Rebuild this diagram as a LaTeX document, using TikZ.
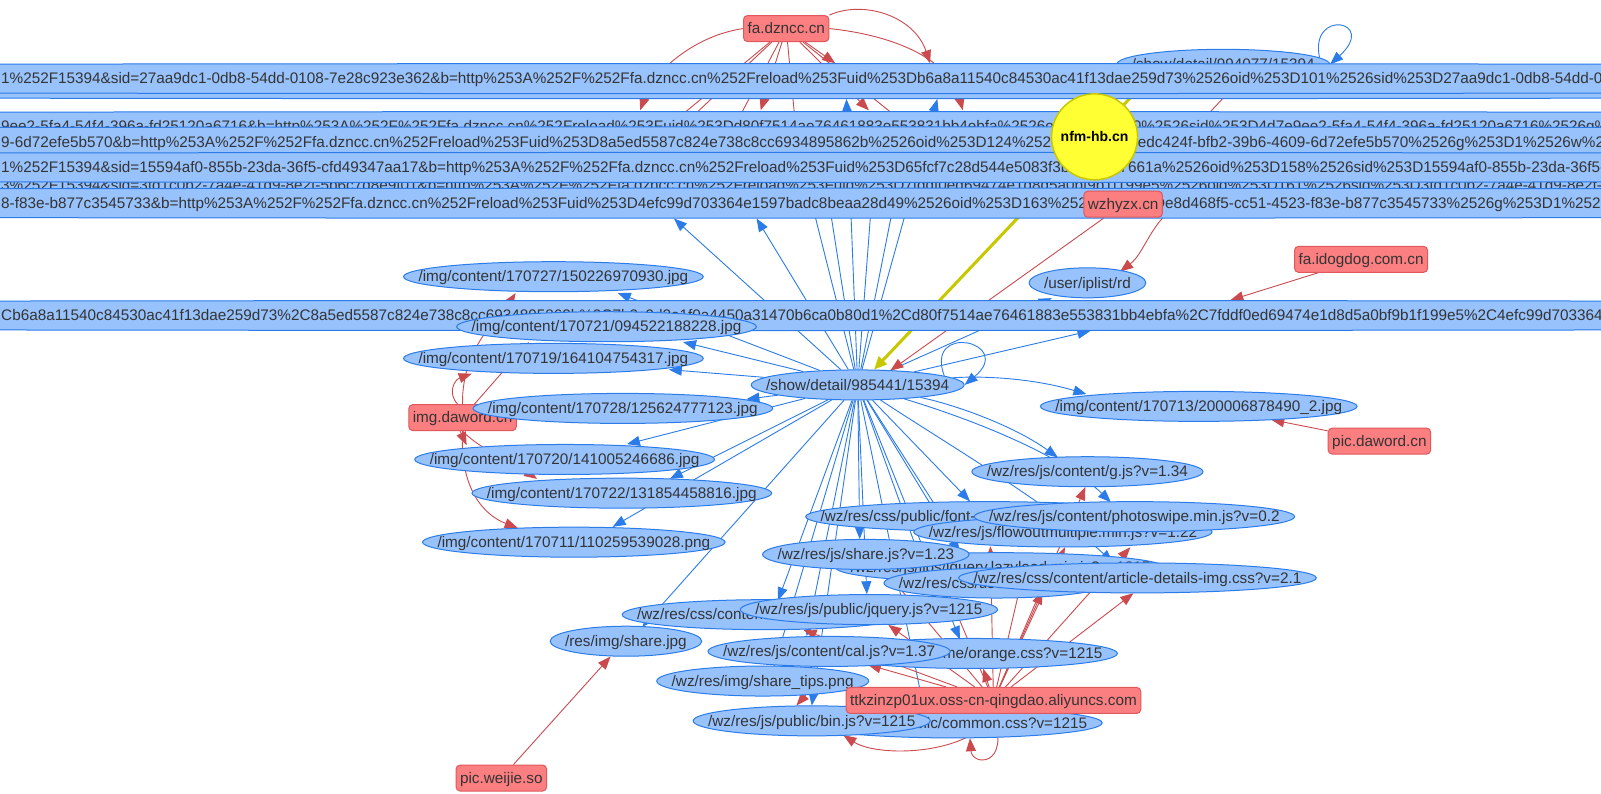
\documentclass[tikz,border=0pt]{standalone}
\usepackage{fontspec}
\setmainfont{Liberation Sans}
\usetikzlibrary{arrows.meta,shapes.geometric}
\pgfdeclarelayer{bg}
\pgfdeclarelayer{edges}
\pgfsetlayers{bg,edges,main}
\definecolor{nfill}{HTML}{97C2FC}
\definecolor{nline}{HTML}{2B7CE9}
\definecolor{rfill}{HTML}{FB7E81}
\definecolor{rline}{HTML}{E0585C}
\definecolor{redge}{HTML}{CB4A4E}
\definecolor{yfill}{HTML}{FFFF33}
\definecolor{yline}{HTML}{C8C800}
\definecolor{tcol}{HTML}{343434}
\newlength\elw
\newcommand\nfont{\fontsize{15.3}{18}\selectfont}
\tikzset{
 bel/.style={ellipse, draw=nline, fill=nfill, line width=1pt, inner sep=0pt, minimum height=30pt},
 ntxt/.style={inner sep=0pt, font=\nfont, text=tcol, text height=10.5pt, text depth=0pt},
 rbox/.style={draw=rline, fill=rfill, rounded corners=4pt, line width=1pt, font=\nfont, text=tcol, inner xsep=4pt, inner ysep=0pt, minimum height=26pt, text height=10.5pt, text depth=0pt},
 ycirc/.style={circle, draw=yline, fill=yfill, line width=1.5pt, minimum size=86pt, inner sep=0pt, font=\bfseries\fontsize{14}{16}\selectfont, text=black},
 be/.style={draw=nline, line width=0.9pt, -{Triangle[length=13pt,width=10pt]}},
 re/.style={draw=redge, line width=0.9pt, -{Triangle[length=13pt,width=10pt]}},
 ye/.style={draw=yline, line width=3pt, -{Triangle[length=13pt,width=11pt]}},
}
\newcommand\enode[4]{%
  \pgfinterruptpicture\setbox0=\hbox{\nfont #4}\global\elw=\wd0\endpgfinterruptpicture
  \global\advance\elw by 30pt\relax
  \node[bel, minimum width=\the\elw] (#1) at (#2,#3) {};
  \node[ntxt] (#1-t) at (#1.center) {#4};}
\newcommand\bnode[3]{%
  \node[bel, minimum width=6000pt] (#1) at (784,#2) {};
  \node[ntxt, anchor=west] (#1-t) at (1,#2) {#3};}
\begin{document}
\begin{tikzpicture}[x=1.021pt,y=-1.021pt]
\useasboundingbox (0,0) rectangle (1568,776.7);
\begin{pgfonlayer}{bg}
\fill[white] (0,0) rectangle (1568,776.7);
\end{pgfonlayer}
% ---------- nodes ----------
\enode{sd994}{1198}{63}{/show/detail/994077/15394}
\node[bel, minimum width=6000pt] (barA2) at (784,82) {};
\bnode{barA}{77}{1\%252F15394\&sid=27aa9dc1-0db8-54dd-0108-7e28c923e362\&b=http\%253A\%252F\%252Ffa.dzncc.cn\%252Freload\%253Fuid\%253Db6a8a11540c84530ac41f13dae259d73\%2526oid\%253D101\%2526sid\%253D27aa9dc1-0db8-54dd-0108-7e28c923e362\%2526g\%253D1}
\bnode{barB}{124}{9ee2-5fa4-54f4-396a-fd25120a6716\&b=http\%253A\%252F\%252Ffa.dzncc.cn\%252Freload\%253Fuid\%253Dd80f7514ae76461883e553831bb4ebfa\%2526oid\%253D150\%2526sid\%253D4d7e9ee2-5fa4-54f4-396a-fd25120a6716\%2526g\%253D1\%2526w\%253D1}
\bnode{barC}{139}{9-6d72efe5b570\&b=http\%253A\%252F\%252Ffa.dzncc.cn\%252Freload\%253Fuid\%253D8a5ed5587c824e738c8cc6934895862b\%2526oid\%253D124\%2526sid\%253D9edc424f-bfb2-39b6-4609-6d72efe5b570\%2526g\%253D1\%2526w\%253D1}
\bnode{barE}{181}{3\%252F15394\&sid=3fd1c0b2-7a4e-41d9-8e2f-5b6c7d8e9f01\&b=http\%253A\%252F\%252Ffa.dzncc.cn\%252Freload\%253Fuid\%253D7fddf0ed69474e1d8d5a0bf9b1f199e5\%2526oid\%253D161\%2526sid\%253D3fd1c0b2-7a4e-41d9-8e2f-5b6c7d8e9f01\%2526g\%253D1}
\bnode{barD}{164}{1\%252F15394\&sid=15594af0-855b-23da-36f5-cfd49347aa17\&b=http\%253A\%252F\%252Ffa.dzncc.cn\%252Freload\%253Fuid\%253D65fcf7c28d544e5083f3b2e9c407661a\%2526oid\%253D158\%2526sid\%253D15594af0-855b-23da-36f5-cfd49347aa17\%2526g\%253D1}
\bnode{barF}{199}{8-f83e-b877c3545733\&b=http\%253A\%252F\%252Ffa.dzncc.cn\%252Freload\%253Fuid\%253D4efc99d703364e1597badc8beaa28d49\%2526oid\%253D163\%2526sid\%253De8d468f5-cc51-4523-f83e-b877c3545733\%2526g\%253D1\%2526}
\node[ycirc] (nfm) at (1072,134) {nfm-hb.cn};
\node[rbox] (wz) at (1100,200) {wzhyzx.cn};
\node[rbox] (dz) at (770,28) {fa.dzncc.cn};
\enode{c727}{542}{271}{/img/content/170727/150226970930.jpg}
\enode{ipl}{1065}{277}{/user/iplist/rd}
\node[rbox] (idog) at (1333,254) {fa.idogdog.com.cn};
\bnode{barG}{309}{Cb6a8a11540c84530ac41f13dae259d73\%2C8a5ed5587c824e738c8cc6934895862b\%2C7b3c9d2e1f0a4450a31470b6ca0b80d1\%2Cd80f7514ae76461883e553831bb4ebfa\%2C7fddf0ed69474e1d8d5a0bf9b1f199e5\%2C4efc99d703364e1597badc8beaa28d49}
\enode{c721}{594}{320}{/img/content/170721/094522188228.jpg}
\enode{c719}{542}{351}{/img/content/170719/164104754317.jpg}
\node[rbox] (imgd) at (453,409) {img.daword.cn};
\enode{sd985}{840}{377}{/show/detail/985441/15394}
\enode{c728}{610}{400}{/img/content/170728/125624777123.jpg}
\enode{c713}{1174}{398}{/img/content/170713/200006878490\_2.jpg}
\node[rbox] (picd) at (1351,432) {pic.daword.cn};
\enode{c720}{553}{450}{/img/content/170720/141005246686.jpg}
\enode{gjs}{1065}{462}{/wz/res/js/content/g.js?v=1.34}
\enode{c722}{609}{483}{/img/content/170722/131854458816.jpg}
\enode{font}{968}{506}{/wz/res/css/public/font-awesome.min.css?v=1215}
\enode{flow}{1041}{521}{/wz/res/js/flowoutmultiple.min.js?v=1.22}
\enode{psw}{1111}{506}{/wz/res/js/content/photoswipe.min.js?v=0.2}
\enode{c711}{562}{531}{/img/content/170711/110259539028.png}
\enode{lazy}{980}{556}{/wz/res/js/libs/jquery.lazyload.min.js?v=1215}
\enode{share}{848}{543}{/wz/res/js/share.js?v=1.23}
\enode{adcss}{976}{571}{/wz/res/css/user.css?v=1215}
\enode{artcss}{1114}{566}{/wz/res/css/content/article-details-img.css?v=2.1}
\enode{cnt}{750}{602}{/wz/res/css/content/detail.css?v=1215}
\enode{jq}{851}{597}{/wz/res/js/public/jquery.js?v=1215}
\enode{rshare}{613}{628}{/res/img/share.jpg}
\enode{orange}{952}{640}{/wz/res/css/theme/orange.css?v=1215}
\enode{cal}{812}{638}{/wz/res/js/content/cal.js?v=1.37}
\enode{tips}{747}{667}{/wz/res/img/share\_tips.png}
\enode{common}{933}{708}{/wz/res/css/public/common.css?v=1215}
\enode{bin}{795}{706}{/wz/res/js/public/bin.js?v=1215}
\node[rbox] (ttk) at (973,686) {ttkzinzp01ux.oss-cn-qingdao.aliyuncs.com};
\node[rbox] (picw) at (491,762) {pic.weijie.so};
% ---------- edges ----------
\begin{pgfonlayer}{edges}
% blue, from /show/detail/985441
\foreach \n/\x/\y in {bA1/829/97, bA2/918/97, bB/858/139, bC/805/154, bD/790/179, bE/876/196,
  bF1/660/214, bF2/741/214, bG/1068/324, bipl/1030/292, b727/605/287, b721/669/335,
  b719/655/362, b728/731/391, b720/614/435, b722/656/469, b711/600/516, bsh/629/614,
  bfont/950/491, blazy/940/541, bflow/925/509, bshare/842/528, badcss/905/558,
  bjq/849/582, bcnt/762/588, bcal/790/623, borange/940/626, btips/758/653,
  bbin/795/691, bcommon/905/695}
  {\coordinate (\n) at (\x,\y); \draw[be] (sd985) -- (\n);}
\coordinate (b713) at (1064,386);
\draw[be] (sd985) .. controls (960,368) and (1010,370) .. (b713);
\coordinate (bgjs) at (1036,448);
\draw[be] (sd985) .. controls (930,395) and (990,415) .. (bgjs);
\coordinate (bpsw) at (1088,492);
\draw[be] (sd985) .. controls (950,410) and (1040,445) .. (bpsw);
\coordinate (bart) at (1090,551);
\draw[be] (sd985) .. controls (920,430) and (1030,495) .. (bart);
\draw[be] (sd985.6) .. controls (905,315) and (995,335) .. (sd985.east);
\draw[be] (sd994.4) .. controls (1282,8) and (1350,20) .. (sd994.east);
% yellow
\coordinate (y1) at (856,362); \draw[ye] (nfm) -- (y1);
\coordinate (y2) at (1125,76); \draw[ye] (nfm) -- (y2);
% red from fa.dzncc.cn
\coordinate (rA1) at (818,62); \draw[re] (dz) -- (rA1);
\coordinate (rA2) at (911,62); \draw[re] (dz.north east) .. controls (845,0) and (895,15) .. (rA2);
\coordinate (rB1) at (627,108); \draw[re] (dz.west) .. controls (680,35) and (640,70) .. (rB1);
\coordinate (rB4) at (943,108); \draw[re] (dz.east) .. controls (880,35) and (930,60) .. (rB4);
\foreach \n/\x/\y in {rB2/745/108, rB3/851/108, rC/654/124, rD/640/150, rE/697/166, rF1/785/184, rF2/965/184}
  {\coordinate (\n) at (\x,\y); \draw[re] (dz) -- (\n);}
% red from img.daword.cn
\coordinate (r727) at (505,287); \draw[re] (imgd.north) .. controls (452,340) and (490,310) .. (r727);
\coordinate (r721) at (518,335); \draw[re] (imgd) -- (r721);
\coordinate (r719) at (462,366); \draw[re] (imgd.110) .. controls (438,385) and (445,372) .. (r719);
\coordinate (r720) at (457,436); \draw[re] (imgd.260) -- (r720);
\coordinate (r722) at (526,469); \draw[re] (imgd.south) .. controls (470,440) and (505,455) .. (r722);
\coordinate (r711) at (507,517); \draw[re] (imgd.south) .. controls (450,480) and (475,505) .. (r711);
% red from wzhyzx.cn
\coordinate (rsd) at (872,363); \draw[re] (wz) -- (rsd);
\coordinate (ripl) at (1097,266); \draw[re] (wz.south east) .. controls (1125,228) and (1118,250) .. (ripl);
\coordinate (r994) at (1215,78); \draw[re] (wz) -- (r994);
% other red sources
\coordinate (rG) at (1205,294); \draw[re] (idog) -- (rG);
\coordinate (r713) at (1245,411); \draw[re] (picd) -- (r713);
\coordinate (rsh) at (598,643); \draw[re] (picw) -- (rsh);
% red from ttkzinzp01ux
\coordinate (rbin1) at (826,720); \draw[re] (ttk.south) .. controls (950,740) and (860,742) .. (rbin1);
\coordinate (rcom) at (950,723); \draw[re] (ttk.south) .. controls (990,752) and (952,750) .. (rcom);
\coordinate (rbin2) at (780,691); \draw[re] (ttk.north west) .. controls (830,655) and (800,668) .. (rbin2);
\foreach \n/\x/\y in {rcal/850/651, rcnt/787/617, rjq/870/612, rshare2/866/558, rorange/963/655,
  rfl1/970/535, rfl2/1043/536, rfl3/1107/536, rgjs/1063/477, rart1/1021/579, rart2/1110/581,
  radcss/930/584, rlazy/1000/571}
  {\coordinate (\n) at (\x,\y); \draw[re] (ttk) -- (\n);}
\end{pgfonlayer}
\end{tikzpicture}
\end{document}
